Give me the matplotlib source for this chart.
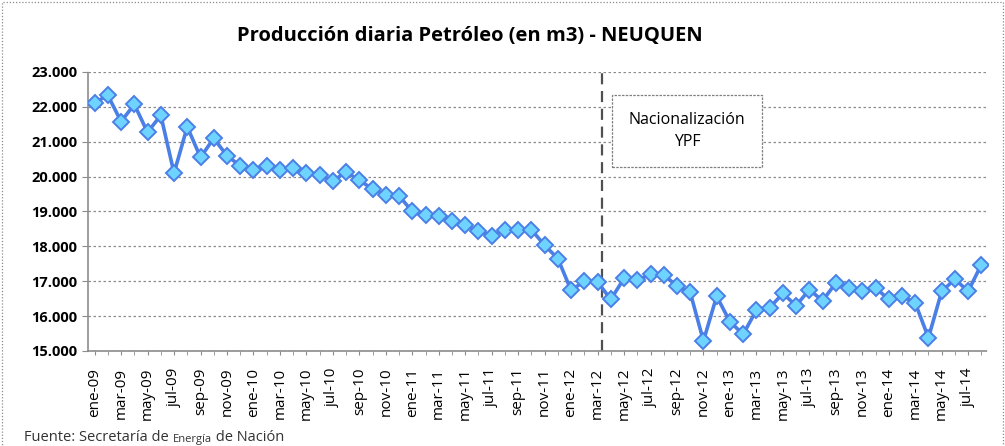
import matplotlib
matplotlib.use('Agg')
import matplotlib.pyplot as plt
from matplotlib.patches import Rectangle
from matplotlib.ticker import FuncFormatter, MultipleLocator

plt.rcParams['font.family'] = ['Open Sans', 'DejaVu Sans']

MESES = ['ene', 'feb', 'mar', 'abr', 'may', 'jun',
         'jul', 'ago', 'sep', 'oct', 'nov', 'dic']
ANIOS = ['09', '10', '11', '12', '13', '14']

# monthly categories ene-09 .. ago-14
meses = [f'{m}-{a}' for a in ANIOS for m in MESES][:68]

# m3/day
produccion = [
    22120, 22330, 21580, 22070, 21270, 21760, 20100, 21430, 20550, 21100, 20600, 20310,
    20200, 20310, 20200, 20250, 20100, 20050, 19870, 20140, 19890, 19650, 19480, 19450,
    19000, 18900, 18880, 18720, 18600, 18440, 18300, 18480, 18460, 18480, 18030, 17650,
    16740, 17000, 16980, 16480, 17080, 17030, 17200, 17190, 16860, 16680, 15290, 16570,
    15840, 15480, 16170, 16240, 16650, 16300, 16760, 16440, 16950, 16810, 16720, 16810,
    16480, 16570, 16380, 15380, 16710, 17060, 16710, 17480,
]

NACIONALIZACION = 38.3  # between mar-12 and abr-12

C_LINE = '#4A7FE6'
C_FACE = '#6FD3FF'
C_GRID = '#8C8C8C'

fig = plt.figure(figsize=(10.05, 4.46), dpi=100)
fig.patch.set_facecolor('white')
ax = fig.add_axes([88/1005, 1 - 351/446, 900/1005, 279/446])

x = list(range(len(meses)))
ax.plot(x, produccion, '-', color=C_LINE, lw=2.6, zorder=3,
        marker='D', markersize=8, markerfacecolor=C_FACE,
        markeredgecolor=C_LINE, markeredgewidth=1.4)

ax.set_xlim(-0.5, len(meses) - 0.5)
ax.set_ylim(15000, 23000)
ax.yaxis.set_major_locator(MultipleLocator(1000))
ax.yaxis.set_major_formatter(FuncFormatter(lambda v, p: f'{int(v):,}'.replace(',', '.')))
ax.grid(axis='y', color=C_GRID, ls=(0, (2, 2)), lw=0.9, zorder=1)

ax.set_xticks(x[::2])
ax.set_xticklabels(meses[::2], rotation=90, fontsize=11)
ax.set_xticks(x, minor=True)
ax.tick_params(axis='x', which='both', length=3, color=C_GRID, pad=9)
ax.tick_params(axis='y', length=4, color=C_GRID, labelsize=10.5)
for lab in ax.get_yticklabels():
    lab.set_fontweight('bold')

for s in ['top', 'right']:
    ax.spines[s].set_visible(False)
for s in ['left', 'bottom']:
    ax.spines[s].set_color(C_GRID)
    ax.spines[s].set_linestyle((0, (2, 1)))
    ax.spines[s].set_linewidth(1.2)

# nationalization marker
ax.axvline(NACIONALIZACION, color='#505050', ls=(0, (5, 3)), lw=1.6, zorder=2)
fig.patches.append(Rectangle((612/1005, 1 - 167/446), 150/1005, 72/446,
                             transform=fig.transFigure, facecolor='white',
                             edgecolor='#7F7F7F', ls=(0, (2, 1)), lw=0.9, zorder=4))
fig.text(687/1005, 1 - 131/446, 'Nacionalización\nYPF', ha='center', va='center',
         fontsize=11.5, linespacing=1.5, color='black', zorder=5)

fig.text(470/1005, 1 - 36/446, 'Producción diaria Petróleo (en m3) - NEUQUEN',
         ha='center', va='center', fontsize=14.5, fontweight='bold')

# source line, mixed sizes
t1 = fig.text(24/1005, 1 - 441/446, 'Fuente: Secretaría de ', ha='left',
              va='baseline', fontsize=10.5, color='#333333')
t2 = ax.annotate('Energía', xy=(1, 0), xycoords=t1, va='bottom', ha='left',
                 fontsize=8, color='#333333', annotation_clip=False)
ax.annotate(' de Nación', xy=(1, 0), xycoords=t2, va='bottom', ha='left',
            fontsize=10.5, color='#333333', annotation_clip=False)

# outer chart border
fig.patches.append(Rectangle((2/1005, -0.05), 1001/1005, 1.05 - 2/446,
                             transform=fig.transFigure, fill=False,
                             edgecolor='#8C8C8C', ls=(0, (1, 1.5)), lw=0.9))

fig.savefig('out.png', dpi=100, facecolor='white')
